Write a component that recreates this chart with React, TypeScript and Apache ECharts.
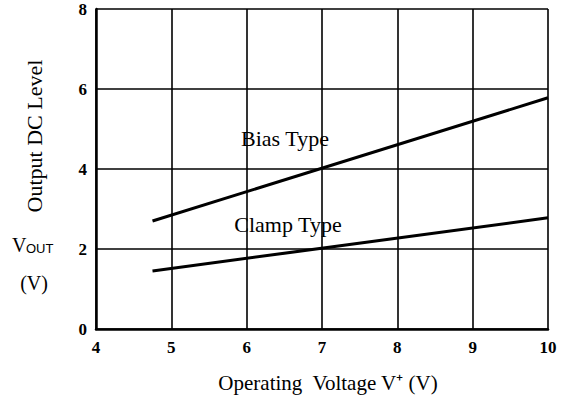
import React, { useEffect, useRef } from "react";
import * as echarts from "echarts";

const xTicks = [4, 5, 6, 7, 8, 9, 10];
const yTicks = [0, 2, 4, 6, 8];
const biasType: [number, number][] = [
  [4.75, 2.7],
  [10, 5.78],
];
const clampType: [number, number][] = [
  [4.75, 1.45],
  [10, 2.78],
];

const FONT = "Liberation Serif";

export default function App() {
  const ref = useRef<HTMLDivElement>(null);
  useEffect(() => {
    if (!ref.current) return;
    const chart = echarts.init(ref.current, null, { renderer: "svg" });
    const txt = (text: string, x: number, y: number, size: number, extra: any = {}) => ({
      type: "text",
      x,
      y,
      ...extra,
      style: {
        text,
        fontFamily: extra.fontFamily || FONT,
        fontSize: size,
        fill: "#000",
        align: extra.align || "center",
        verticalAlign: "middle",
      },
    });
    chart.setOption({
      animation: false,
      backgroundColor: "#ffffff",
      grid: { left: 96, right: 17, top: 9, bottom: 72 },
      xAxis: {
        type: "value",
        min: xTicks[0],
        max: xTicks[xTicks.length - 1],
        interval: 1,
        axisLine: { show: true, lineStyle: { color: "#000", width: 2.5 } },
        axisTick: { show: false },
        splitLine: { show: true, lineStyle: { color: "#000", width: 1.6 } },
        axisLabel: { color: "#000", fontFamily: FONT, fontSize: 17, fontWeight: "bold", margin: 10 },
      },
      yAxis: {
        type: "value",
        min: yTicks[0],
        max: yTicks[yTicks.length - 1],
        interval: 2,
        axisLine: { show: true, lineStyle: { color: "#000", width: 2.5 } },
        axisTick: { show: false },
        splitLine: { show: true, lineStyle: { color: "#000", width: 1.6 } },
        axisLabel: { color: "#000", fontFamily: FONT, fontSize: 17, fontWeight: "bold", margin: 9 },
      },
      series: [
        {
          name: "Bias Type",
          type: "line",
          data: biasType,
          showSymbol: false,
          lineStyle: { color: "#000", width: 3 },
        },
        {
          name: "Clamp Type",
          type: "line",
          data: clampType,
          showSymbol: false,
          lineStyle: { color: "#000", width: 3 },
        },
      ],
      graphic: [
        txt("Bias Type", 285, 138, 22),
        txt("Clamp Type", 288, 224, 22),
        txt("Output DC Level", 34, 136, 22, { rotation: Math.PI / 2 }),
        txt("V", 12, 245, 20, { align: "left" }),
        txt("OUT", 26, 248, 13, { align: "left", fontFamily: "Liberation Sans" }),
        txt("(V)", 34, 283, 20),
        txt("Operating  Voltage V⁺ (V)", 328, 383, 21),
      ],
    });
    return () => chart.dispose();
  }, []);
  return <div ref={ref} style={{ position: "fixed", left: 0, top: 0, width: 565, height: 401 }} />;
}
